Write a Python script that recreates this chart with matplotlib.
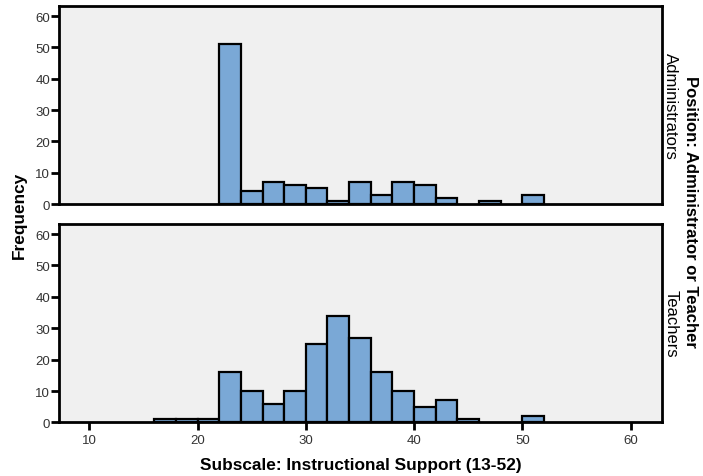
import numpy as np
import matplotlib
matplotlib.use("Agg")
from matplotlib import pyplot as plt

plt.rcParams['font.family'] = ['Liberation Sans', 'DejaVu Sans']

# bin edges, width 2, from 16 to 52
bin_left = [16, 18, 20, 22, 24, 26, 28, 30, 32, 34, 36, 38, 40, 42, 44, 46, 48, 50]
admin_counts = [0, 0, 0, 51, 4, 7, 6, 5, 1, 7, 3, 7, 6, 2, 0, 1, 0, 3]
teacher_counts = [1, 1, 1, 16, 10, 6, 10, 25, 34, 27, 16, 10, 5, 7, 1, 0, 0, 2]
panel_names = ['Administrators', 'Teachers']
x_ticks = [10, 20, 30, 40, 50, 60]
y_ticks = [0, 10, 20, 30, 40, 50, 60]

bar_color = '#7aa8d6'
bg = '#f0f0f0'

fig = plt.figure(figsize=(7.03, 4.77), dpi=100)
ax1 = fig.add_axes([0.0839, 0.5702, 0.8578, 0.4151])
ax2 = fig.add_axes([0.0839, 0.1122, 0.8578, 0.4161])

for ax, counts, name in zip([ax1, ax2], [admin_counts, teacher_counts], panel_names):
    ax.set_facecolor(bg)
    lefts = [l for l, c in zip(bin_left, counts) if c > 0]
    hts = [c for c in counts if c > 0]
    ax.bar(lefts, hts, width=2, align='edge', color=bar_color,
           edgecolor='black', linewidth=1.6, zorder=3)
    ax.set_xlim(7.2, 62.9)
    ax.set_ylim(0, 63.2)
    ax.set_yticks(y_ticks)
    ax.tick_params(axis='y', direction='out', length=6, width=2,
                   labelsize=9.5, pad=0.5, colors='black', labelcolor='#333333')
    for s in ax.spines.values():
        s.set_linewidth(2)
        s.set_color('black')
    ax.text(1.002, 0.5, name, transform=ax.transAxes, rotation=-90,
            ha='left', va='center', fontsize=12)

ax1.set_xticks([])
ax2.set_xticks(x_ticks)
ax2.tick_params(axis='x', direction='out', length=6, width=2,
                labelsize=9.5, pad=2, labelcolor='#333333')

fig.text(0.513, 0.025, 'Subscale: Instructional Support (13-52)', ha='center',
         va='center', fontsize=12.4, fontweight='bold')
fig.text(0.028, 0.549, 'Frequency', rotation=90, ha='center', va='center',
         fontsize=12.4, fontweight='bold')
fig.text(0.9715, 0.555, 'Position: Administrator or Teacher', rotation=-90,
         ha='left', va='center', fontsize=12, fontweight='bold')

fig.savefig('out.png', dpi=100)
